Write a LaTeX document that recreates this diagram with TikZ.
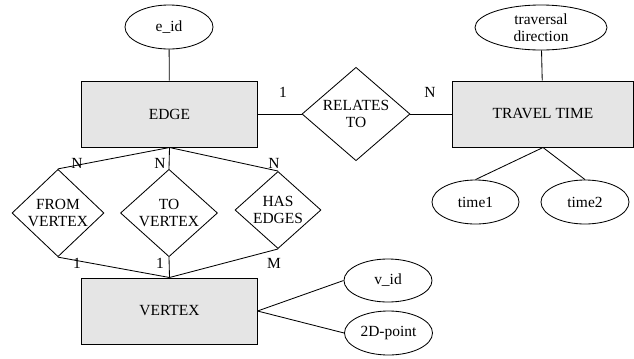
\documentclass[tikz,border=0pt]{standalone}
\usepackage{fontspec}
\setmainfont{Liberation Serif}
\usetikzlibrary{shapes.geometric}
\definecolor{entfill}{RGB}{229,229,229}
\tikzset{
  entity/.style={draw,fill=entfill,line width=0.7pt,minimum width=4.375cm,minimum height=1.65cm,inner sep=0pt,font=\fontsize{11}{12}\selectfont},
  relation/.style={draw,diamond,fill=white,line width=0.6pt,inner sep=0pt,align=center,font=\fontsize{11}{12}\selectfont},
  attr/.style={draw,ellipse,line width=0.6pt,minimum width=2.2cm,minimum height=1.1cm,inner sep=0pt,align=center,font=\fontsize{11}{12}\selectfont},
  card/.style={font=\fontsize{11}{12}\selectfont,inner sep=0pt},
  link/.style={line width=0.6pt},
}
\begin{document}
\begin{tikzpicture}[x=0.025cm,y=-0.025cm]
\useasboundingbox (0,0) rectangle (634,358);
% ---- entities ----
\node[entity] (edge) at (169.5,114) {EDGE};
\node[entity,minimum width=4.5cm] (travel) at (543,114) {TRAVEL TIME};
\node[entity] (vertex) at (169.5,311) {VERTEX};
% ---- relationships ----
\node[relation,minimum width=2.7cm,minimum height=1.875cm] (relates) at (356,114) {RELATES\\TO};
\node[relation,minimum width=2.3cm,minimum height=1.625cm] (fromv) at (58,213) {FROM\\VERTEX};
\node[relation,minimum width=2.425cm,minimum height=1.625cm] (tov) at (169,213) {TO\\VERTEX};
\node[relation,minimum width=2.15cm,minimum height=1.625cm] (hase) at (278,210) {HAS\\EDGES};
% ---- attributes ----
\node[attr] (eid) at (169,27) {e\_id};
\node[attr,minimum width=3.3cm,minimum height=1.125cm] (tdir) at (541,27.5) {traversal\\direction};
\node[attr,minimum width=2.175cm] (time1) at (475.5,202) {time1};
\node[attr] (time2) at (585,202) {time2};
\node[attr,minimum height=1.075cm] (vid) at (388,280.5) {v\_id};
\node[attr] (point) at (388.5,333) {2D-point};
% ---- connectors ----
\draw[link] (eid) -- (edge);
\draw[link] (tdir) -- (travel);
\draw[link] (edge) -- (relates) -- (travel);
\draw[link] (travel.south) -- (time1.north);
\draw[link] (travel.south) -- (time2.north);
\foreach \r in {fromv,tov,hase}{
  \draw[link] (edge.south) -- (\r.north);
  \draw[link] (\r.south) -- (vertex.north);
}
\draw[link] (vertex.east) -- (vid.west);
\draw[link] (vertex.east) -- (point.west);
% ---- cardinalities ----
\node[card] (c1) at (283,92) {1};
\node[card] (c2) at (430,92) {N};
\node[card] (c3) at (77,163) {N};
\node[card] (c4) at (160,163) {N};
\node[card] (c5) at (274,163) {N};
\node[card] (c6) at (77,263) {1};
\node[card] (c7) at (160,263) {1};
\node[card] (c8) at (274,263) {M};
\end{tikzpicture}
\end{document}
